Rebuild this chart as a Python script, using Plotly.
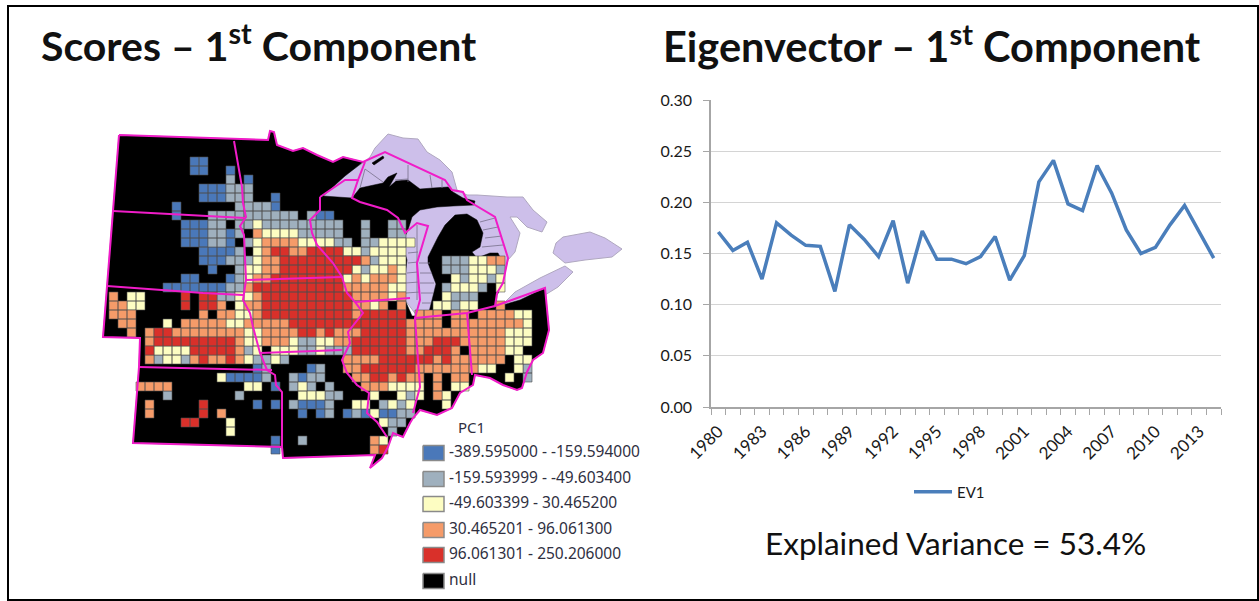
import plotly.graph_objects as go

# ---------- line chart data ----------
YEARS = list(range(1980, 2015))
EV1 = [0.171, 0.153, 0.161, 0.125, 0.180, 0.168, 0.158, 0.157, 0.113, 0.178,
       0.164, 0.147, 0.182, 0.121, 0.172, 0.1445, 0.1445, 0.140, 0.147, 0.1666,
       0.124, 0.148, 0.220, 0.241, 0.1985, 0.192, 0.236, 0.209, 0.173, 0.150,
       0.156, 0.178, 0.197, 0.171, 0.1455]
YEAR_LABELS = list(range(1980, 2014, 3))
Y_TICKS = [0, 0.05, 0.10, 0.15, 0.20, 0.25, 0.30]

# ---------- map legend ----------
CLASS_CODES = ["b", "g", "y", "o", "r", "k"]
CLASS_LABELS = ["-389.595000 - -159.594000", "-159.593999 - -49.603400",
                "-49.603399 - 30.465200", "30.465201 - 96.061300",
                "96.061301 - 250.206000", "null"]
CLASS_COLORS = ["#4a78b9", "#9fb0be", "#fdfdc2", "#f59b69", "#d9302a", "#000000"]

# ---------- map geometry (map units = image pixels) ----------
LAND = [(119,135),(268,140),(270,131),(274,132),(277,145),(293,151),(303,148),(317,155),(333,162),(343,157),(363,162),
        (345,176),(323,196),(352,198),(360,188),(383,183),(388,177),(397,173),(389,187),(396,181),(408,180),(420,189),
        (433,188),(448,187),(453,192),(463,198),(475,201),(474,205),(453,206),(437,207),(420,210),(412,217),(408,230),
        (402,243),(407,260),(405,277),(405,300),(412,316),(428,316),(436,284),(428,263),(428,257),(438,237),(445,225),
        (455,215),(467,214),(477,220),(483,233),(480,247),(472,252),(477,258),(490,253),(498,253),(505,267),(502,287),
        (497,295),(496,307),(520,300),(545,288),(549,330),(543,353),(533,360),(527,372),(522,388),(517,390),(503,385),
        (490,378),(475,375),(473,385),(460,393),(452,408),(437,415),(420,410),(413,418),(410,423),(403,437),(393,433),
        (388,447),(382,458),(370,468),(375,455),(283,458),(282,447),(133,443),(139,367),(140,338),(103,337),(107,287)]
ISLE = [(372,163),(383,156),(384,158),(374,165)]
LAKE_UPPER = [(323,197),(340,178),(363,163),(370,157),(375,148),(383,140),(388,134),(403,138),(418,139),(427,152),
              (440,160),(452,172),(455,182),(457,190),(467,195),(477,195),(507,197),(523,197),(533,210),(547,222),
              (542,232),(527,227),(517,217),(510,217),(520,233),(515,252),(508,260),(503,280),(493,300),(420,320),
              (405,300),(400,230),(352,200)]
LAKE_ERIE = [(497,310),(515,292),(540,278),(565,266),(573,272),(558,287),(545,295),(530,303),(505,312)]
LAKE_ONTARIO = [(553,253),(556,243),(563,237),(590,232),(605,238),(622,249),(612,257),(585,260),(565,263)]
WATER_LINES = [[(365,169),(383,182)],[(408,165),(408,182)],[(430,175),(432,188)],[(442,180),(442,188)],
               [(395,180),(408,179)],[(360,188),(365,169)],[(480,222),(495,218)],[(483,230),(498,227)],
               [(485,238),(502,236)],[(482,247),(503,245)],[(408,253),(418,252)],[(408,263),(418,262)],
               [(407,273),(418,272)],[(406,283),(419,282)],[(406,293),(420,292)],[(419,263),(430,263)],
               [(420,273),(432,273)],[(420,283),(434,283)],[(421,293),(433,293)],[(422,303),(431,303)],
               [(417,225),(417,300)]]
BORDERS = [
    [(119,135),(268,140),(270,131),(274,132),(277,145),(293,151),(303,148),(317,155),(333,162),(343,157),(363,162),
     (385,152),(445,180),(452,190),(463,192),(467,200),(475,205),(495,217),(508,258),(503,283),(497,293),(495,306),
     (545,288),(549,330),(543,353),(533,360),(527,372),(522,388),(517,390),(503,385),(490,378),(475,375),(473,385),
     (460,393),(452,408),(437,415),(420,410),(413,418),(410,423),(403,437),(393,433),(388,447),(382,458),(370,468),
     (375,455),(283,458),(282,447),(133,443),(139,367),(140,338),(103,337),(107,287),(119,135)],
    [(113,211),(245,218)],
    [(234,141),(239,170),(242,187),(243,203),(246,217),(240,226),(244,235),(246,280),(243,300),(250,313),(253,327),
     (260,353),(267,370),(275,375),(276,385),(282,392),(282,447)],
    [(107,286),(203,293),(243,295)],
    [(139,367),(218,369),(272,370)],
    [(246,280),(342,277)],
    [(260,353),(330,350),(342,350)],
    [(320,197),(320,210),(310,220),(312,233),(317,245),(333,263),(342,277),(347,293),(355,302),(363,313),(348,332),
     (350,343),(342,360),(347,373),(357,385),(369,393),(367,413),(377,422),(387,437)],
    [(320,197),(345,180),(358,180),(365,162)],
    [(358,180),(352,198),(360,202),(387,210),(398,218),(405,233),(417,223),(428,226),(417,263),(420,300),(415,318),
     (420,387),(413,413)],
    [(355,302),(410,298)],
    [(415,318),(467,313),(495,306)],
    [(467,313),(472,375)],
]

# ---------- county classes, as (row, first column, classes); "." is a gap ----------
COUNTY_RUNS = [
    (3,10,"bb"),(4,10,"bb"),(4,14,"b"),(5,14,"g"),(5,16,"b"),
    (6,11,"bbbggg"),(7,11,"bbbggg"),(7,19,"b"),
    (8,8,"b"),(8,15,"gggg"),(8,19,"b"),
    (9,8,"b"),(9,12,"gggggggggg"),(9,23,"gb"),(9,25,"b"),
    (10,9,"bbbgg"),(10,15,"gg"),(10,17,"yggggg"),(10,23,"gggg"),(10,29,"g"),(10,32,"gg"),
    (11,9,"bbbggb"),(11,15,"g"),(11,17,"oyyyyggggg"),(11,29,"g"),(11,32,"gg"),
    (12,9,"bbbgg"),(12,14,"b"),(12,16,"gyooooyy"),(12,24,"yygg"),(12,29,"ggyyyy"),
    (13,11,"bbbb"),(13,15,"g"),(13,17,"yorroorrrr"),(13,25,"yyyy"),(13,29,"gyyyy"),
    (14,11,"bbbggg"),(14,17,"yoorrrrrrrrro"),(14,27,"oyggyyy"),(14,38,"ggg"),(14,41,"yy"),(14,43,"oo"),
    (15,12,"b"),(15,15,"gy"),(15,17,"yoorrrrrrrr"),(15,27,"yygyyoy"),(15,38,"gggyyyg"),
    (16,9,"bb"),(16,14,"bgy"),(16,17,"oorrrrrrrr"),(16,27,"yoyoooy"),(16,39,"ygyygy"),
    (17,7,"bbbbbbb"),(17,14,"ggorrrrrrrrrr"),(17,27,"oooooyy"),(17,38,"gyyyg"),(17,44,"y"),
    (18,1,"o"),(18,3,"yy"),(18,9,"r"),(18,11,"rrggyy"),(18,17,"orrrrrrrrrr"),(18,28,"ooooyo"),(18,38,"yggg"),
    (19,1,"oo"),(19,3,"yy"),(19,9,"r"),(19,11,"rro"),(19,15,"yoo"),(19,18,"rrrrrrrrrr"),(19,28,"ooyo"),(19,33,"o"),(19,37,"yygyy"),(19,44,"o"),
    (20,1,"ooo"),(20,11,"o"),(20,13,"ooyyo"),(20,18,"rrrrrrrrrro"),(20,29,"rrrrr"),(20,35,"ooo"),(20,39,"oo"),(20,42,"oooo"),(20,46,"yy"),
    (21,2,"oo"),(21,7,"y"),(21,9,"oooooyyoo"),(21,18,"ooorrrrrrrrr"),(21,30,"rrrr"),(21,34,"oooo"),(21,39,"ooo"),(21,42,"ooooo"),(21,47,"y"),
    (22,3,"o"),(22,5,"orrooooooooyyoooo"),(22,22,"rrorooorrr"),(22,32,"rroo"),(22,36,"ooo"),(22,39,"ooo"),(22,42,"oooyyy"),
    (23,5,"orrrrrrrrroyyooo"),(23,20,"yyggyyoo"),(23,28,"rrrrrroo"),(23,36,"orrr"),(23,40,"oo"),(23,42,"oooyyy"),
    (24,5,"ryyyyrrrrrogy"),(24,19,"yyyggyggg"),(24,28,"rrrrrroo"),(24,36,"rrro"),(24,41,"o"),(24,42,"oooyy"),
    (25,5,"ogyygorooro"),(25,16,"yggyg"),(25,27,"oooorrrrrroo"),(25,37,"orooo"),(25,42,"ooo"),(25,46,"yy"),
    (26,17,"bg"),(26,23,"bg"),(26,27,"oorrrrrroo"),(26,37,"oooooyy"),(26,46,"yg"),
    (27,13,"ybbbbg"),(27,21,"gb"),(27,23,"gg"),(27,28,"oorroroo"),(27,37,"o"),(27,39,"oo"),(27,45,"y"),(27,47,"g"),
    (28,4,"oooo"),(28,16,"yy"),(28,19,"b"),(28,21,"gy"),(28,23,"g"),(28,25,"g"),(28,29,"oooyyyy"),(28,37,"o"),(28,39,"yy"),
    (29,7,"g"),(29,15,"g"),(29,22,"yyy"),(29,25,"gg"),(29,30,"y"),(29,33,"ygy"),(29,37,"oy"),
    (30,5,"o"),(30,11,"r"),(30,17,"b"),(30,19,"b"),(30,21,"gbbb"),(30,25,"g"),(30,28,"yy"),(30,31,"gygy"),(30,38,"y"),
    (31,5,"o"),(31,11,"r"),(31,13,"o"),(31,22,"b"),(31,24,"bg"),(31,27,"bgbybb"),(31,33,"gg"),
    (32,9,"rr"),(32,14,"y"),(32,31,"yg"),(32,33,"g"),
    (33,14,"y"),(33,32,"g"),
    (34,19,"b"),(34,22,"g"),(34,30,"oy"),
    (35,19,"b"),(35,30,"or"),
]
CELL = 9
GRID_X0 = 100
GRID_Y0 = 130


def xs(points):
    return [p[0] for p in points] + [points[0][0]]


def ys(points):
    return [p[1] for p in points] + [points[0][1]]


def paths(lines):
    x, y = [], []
    for line in lines:
        x += [p[0] for p in line] + [None]
        y += [p[1] for p in line] + [None]
    return x, y


fig = go.Figure()

for lake in (LAKE_UPPER, LAKE_ERIE, LAKE_ONTARIO):
    fig.add_trace(go.Scatter(x=xs(lake), y=ys(lake), mode="lines", fill="toself", fillcolor="#cdbfea",
                             line=dict(color="#b0a8c0", width=1), hoverinfo="skip", showlegend=False))
for poly in (LAND, ISLE):
    fig.add_trace(go.Scatter(x=xs(poly), y=ys(poly), mode="lines", fill="toself", fillcolor="#000000",
                             line=dict(color="#000000", width=0.5), hoverinfo="skip", showlegend=False))

wx, wy = paths(WATER_LINES)
fig.add_trace(go.Scatter(x=wx, y=wy, mode="lines", line=dict(color="#77708a", width=0.8),
                         hoverinfo="skip", showlegend=False))

for code, color in zip(CLASS_CODES[:5], CLASS_COLORS[:5]):
    cx, cy = [], []
    for row, col, text in COUNTY_RUNS:
        for i, ch in enumerate(text):
            if ch == code:
                x0 = GRID_X0 + (col + i) * CELL
                y0 = GRID_Y0 + row * CELL
                cx += [x0, x0 + CELL, x0 + CELL, x0, x0, None]
                cy += [y0, y0, y0 + CELL, y0 + CELL, y0, None]
    fig.add_trace(go.Scatter(x=cx, y=cy, mode="lines", fill="toself", fillcolor=color,
                             line=dict(color="#4d4d4d", width=0.6), hoverinfo="skip", showlegend=False))

bx, by = paths(BORDERS)
fig.add_trace(go.Scatter(x=bx, y=by, mode="lines", line=dict(color="#f01cc8", width=2),
                         hoverinfo="skip", showlegend=False))

# map legend
LEG_SWATCH_X = (423, 444)
LEG_SWATCH_H = 15
LEG_TEXT_X = 449
LEG_Y = [453, 479, 504, 530, 555, 581]
for color, yc in zip(CLASS_COLORS, LEG_Y):
    fig.add_trace(go.Scatter(
        x=[LEG_SWATCH_X[0], LEG_SWATCH_X[1], LEG_SWATCH_X[1], LEG_SWATCH_X[0], LEG_SWATCH_X[0]],
        y=[yc - LEG_SWATCH_H / 2, yc - LEG_SWATCH_H / 2, yc + LEG_SWATCH_H / 2, yc + LEG_SWATCH_H / 2, yc - LEG_SWATCH_H / 2],
        mode="lines", fill="toself", fillcolor=color, line=dict(color="#8a8a8a", width=1.5),
        hoverinfo="skip", showlegend=False))
fig.add_trace(go.Scatter(x=[LEG_TEXT_X] * 6, y=LEG_Y, mode="text", text=CLASS_LABELS,
                         textposition="middle right",
                         textfont=dict(family="Noto Sans", size=15.5, color="#2f2f3f"),
                         hoverinfo="skip", showlegend=False))

# line chart
fig.add_trace(go.Scatter(x=YEARS, y=EV1, xaxis="x2", yaxis="y2", mode="lines", name="EV1",
                         line=dict(color="#4a7ebb", width=3.5), showlegend=True))

fig.update_layout(
    width=1259, height=601, autosize=False,
    margin=dict(l=0, r=0, t=0, b=0, autoexpand=False),
    paper_bgcolor="#ffffff", plot_bgcolor="rgba(0,0,0,0)",
    font=dict(family="Lato", color="#1a1a1a"),
    xaxis=dict(domain=[0, 1], range=[0, 1259], visible=False),
    yaxis=dict(domain=[0, 1], range=[601, 0], visible=False),
    xaxis2=dict(domain=[711 / 1259, 1221 / 1259], range=[1979.5, 2014.5], anchor="y2",
                tickmode="array", tickvals=YEAR_LABELS, ticktext=[str(v) for v in YEAR_LABELS],
                tickangle=-45, ticks="", showgrid=False, showline=True, linecolor="#a6a6a6", linewidth=1.5,
                tickfont=dict(size=17, family="Lato", color="#1a1a1a"), zeroline=False, ticklabelstandoff=6,
                minor=dict(ticks="outside", tickmode="linear", tick0=1979.5, dtick=1, ticklen=6,
                           tickcolor="#a6a6a6", showgrid=False)),
    yaxis2=dict(domain=[1 - 407 / 601, 1 - 100 / 601], range=[0, 0.30], anchor="x2",
                tickmode="array", tickvals=Y_TICKS, ticktext=[f"{v:.2f}" for v in Y_TICKS],
                ticks="outside", ticklen=6, tickcolor="#a6a6a6", showline=True, linecolor="#a6a6a6", linewidth=1.5,
                gridcolor="#d4d4d4", gridwidth=1, zeroline=False, ticklabelstandoff=8,
                tickfont=dict(size=16, family="Lato", color="#1a1a1a")),
    legend=dict(x=909 / 1259, y=1 - 492 / 601, xanchor="left", yanchor="middle", itemwidth=38,
                bgcolor="rgba(0,0,0,0)", font=dict(size=15, family="Lato", color="#1a1a1a")),
    shapes=[dict(type="rect", xref="paper", yref="paper", x0=8 / 1259, x1=1258 / 1259,
                 y0=1 - 600 / 601, y1=1 - 6 / 601, line=dict(color="#000000", width=2))],
    annotations=[
        dict(text="<b>Scores – 1<sup>st</sup> Component</b>", x=39, y=43, xref="x", yref="y", xanchor="left",
             yanchor="middle", showarrow=False, font=dict(size=41, family="Lato", color="#111111")),
        dict(text="<b>Eigenvector – 1<sup>st</sup> Component</b>", x=661, y=43, xref="x", yref="y", xanchor="left",
             yanchor="middle", showarrow=False, font=dict(size=41.5, family="Lato", color="#111111")),
        dict(text="Explained Variance = 53.4%", x=955, y=543, xref="x", yref="y", xanchor="center",
             yanchor="middle", showarrow=False, font=dict(size=31.5, family="Lato", color="#111111")),
        dict(text="PC1", x=456, y=427, xref="x", yref="y", xanchor="left", yanchor="middle",
             showarrow=False, font=dict(size=15, family="Noto Sans", color="#2f2f3f")),
    ],
)

fig.write_html("out.html", config={"displayModeBar": False},
               post_script="document.body.style.margin='0';document.body.style.overflow='hidden';")
